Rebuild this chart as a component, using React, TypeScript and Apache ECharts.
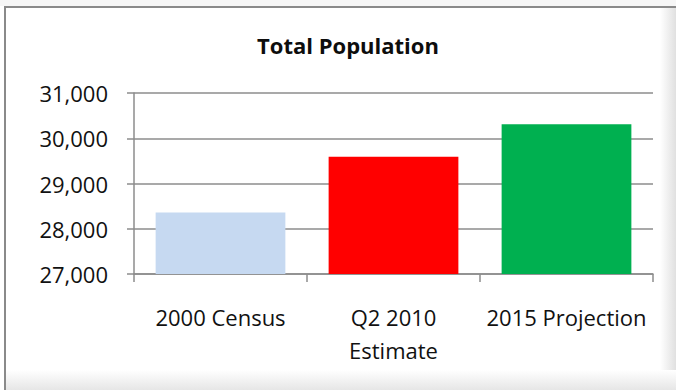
import React, { useEffect, useRef } from "react";
import * as echarts from "echarts";

const categories = ["2000 Census", "Q2 2010 Estimate", "2015 Projection"];
const populationValues = [28360, 29590, 30310];
const barColors = ["#C6D9F1", "#FF0000", "#00B050"];
const yTicks = [27000, 28000, 29000, 30000, 31000];
const chartTitle = "Total Population";

export default function App() {
  const ref = useRef<HTMLDivElement>(null);

  useEffect(() => {
    if (!ref.current) return;
    const chart = echarts.init(ref.current, null, { renderer: "svg" });
    const font = "'Open Sans', sans-serif";
    chart.setOption({
      animation: false,
      backgroundColor: "#ffffff",
      title: {
        text: chartTitle,
        left: 343,
        textAlign: "center",
        top: 29,
        textStyle: { fontFamily: font, fontSize: 22, fontWeight: "bold", color: "#0d0d0d" },
      },
      graphic: [
        {
          type: "rect",
          silent: true,
          z: -10,
          shape: { x: 0, y: 0, width: 676, height: 6 },
          style: { fill: "#f6f6f6" },
        },
        {
          type: "rect",
          silent: true,
          z: -5,
          shape: { x: 660, y: 8, width: 16, height: 382 },
          style: {
            fill: new echarts.graphic.LinearGradient(0, 0, 1, 0, [
              { offset: 0, color: "#ffffff" },
              { offset: 1, color: "#e0e0e0" },
            ]),
          },
        },
        {
          type: "rect",
          silent: true,
          z: -5,
          shape: { x: 6, y: 370, width: 670, height: 20 },
          style: {
            fill: new echarts.graphic.LinearGradient(0, 0, 0, 1, [
              { offset: 0, color: "#ffffff" },
              { offset: 1, color: "#e6e6e6" },
            ]),
          },
        },
        {
          type: "line",
          silent: true,
          shape: { x1: 5, y1: 7, x2: 676, y2: 7 },
          style: { stroke: "#8a8a8a", lineWidth: 2 },
        },
        {
          type: "line",
          silent: true,
          shape: { x1: 5, y1: 6, x2: 5, y2: 390 },
          style: { stroke: "#8a8a8a", lineWidth: 2 },
        },
      ],
      grid: { left: 134, right: 23, top: 93, bottom: 116, containLabel: false },
      xAxis: {
        type: "category",
        data: categories,
        axisLine: { lineStyle: { color: "#8c8c8c", width: 1.5 } },
        axisTick: { show: true, length: 8, lineStyle: { color: "#8c8c8c", width: 1.5 } },
        axisLabel: {
          margin: 26,
          fontFamily: font,
          fontSize: 22,
          color: "#111",
          lineHeight: 33,
          interval: 0,
          formatter: (v: string) => (v === "Q2 2010 Estimate" ? "Q2 2010\nEstimate" : v),
        },
      },
      yAxis: {
        type: "value",
        min: yTicks[0],
        max: yTicks[yTicks.length - 1],
        interval: 1000,
        axisLine: { show: true, lineStyle: { color: "#8c8c8c", width: 1.5 } },
        axisTick: { show: true, length: 7, lineStyle: { color: "#8c8c8c", width: 1.5 } },
        splitLine: { show: true, lineStyle: { color: "#8c8c8c", width: 1.5 } },
        axisLabel: {
          margin: 26,
          fontFamily: font,
          fontSize: 22,
          color: "#111",
          formatter: (v: number) => v.toLocaleString("en-US"),
        },
      },
      series: [
        {
          type: "bar",
          barCategoryGap: "25%",
          data: populationValues.map((v, i) => ({ value: v, itemStyle: { color: barColors[i] } })),
        },
      ],
    });
    return () => chart.dispose();
  }, []);

  return (
    <div
      ref={ref}
      style={{ position: "fixed", left: 0, top: 0, width: 676, height: 390 }}
    />
  );
}
